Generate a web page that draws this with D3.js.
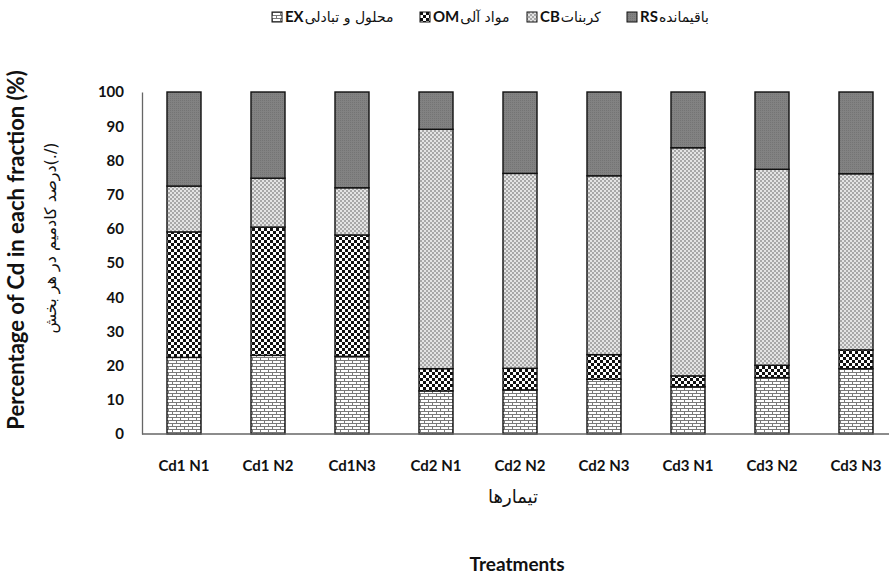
<!DOCTYPE html>
<html>
<head>
<meta charset="utf-8">
<script src="https://cdn.jsdelivr.net/npm/d3@7"></script>
<style>
body { margin: 0; background: #fff; }
text { font-family: Lato, "DejaVu Sans", sans-serif; }
.fa { font-family: "DejaVu Sans", sans-serif; }
</style>
</head>
<body>
<svg id="chart" width="889" height="577"></svg>
<script>
let treatments = ["Cd1 N1", "Cd1 N2", "Cd1N3", "Cd2 N1", "Cd2 N2", "Cd2 N3", "Cd3 N1", "Cd3 N2", "Cd3 N3"];
let exValues = [22.4, 23.0, 22.7, 12.6, 12.9, 16.0, 13.8, 16.5, 19.1];
let omValues = [36.7, 37.5, 35.5, 6.5, 6.3, 7.2, 3.2, 3.6, 5.5];
let cbValues = [13.4, 14.3, 13.8, 70.0, 57.0, 52.3, 66.7, 57.3, 51.5];
let rsValues = [27.5, 25.2, 28.0, 10.9, 23.8, 24.5, 16.3, 22.6, 23.9];
let fractionKeys = ["EX", "OM", "CB", "RS"];
let fractionNames = ["محلول و تبادلی", "مواد آلی", "کربنات", "باقیمانده"];
let yTicks = [0, 10, 20, 30, 40, 50, 60, 70, 80, 90, 100];

let svg = d3.select("#chart");

// fill patterns, one per fraction
let defs = svg.append("defs");
let p = defs.append("pattern").attr("id", "pat-EX").attr("patternUnits", "userSpaceOnUse").attr("width", 8).attr("height", 6);
p.append("rect").attr("width", 8).attr("height", 6).attr("fill", "#fff");
p.append("path").attr("d", "M0,0.5H8M0,3.5H8M0.5,0V3M4.5,3V6").attr("stroke", "#7a7a7a").attr("stroke-width", 1);

p = defs.append("pattern").attr("id", "pat-OM").attr("patternUnits", "userSpaceOnUse").attr("width", 6).attr("height", 6);
p.append("rect").attr("width", 6).attr("height", 6).attr("fill", "#fff");
p.append("rect").attr("width", 3).attr("height", 3).attr("fill", "#111");
p.append("rect").attr("x", 3).attr("y", 3).attr("width", 3).attr("height", 3).attr("fill", "#111");

p = defs.append("pattern").attr("id", "pat-CB").attr("patternUnits", "userSpaceOnUse").attr("width", 4).attr("height", 4);
p.append("rect").attr("width", 4).attr("height", 4).attr("fill", "#e4e4e4");
p.append("rect").attr("width", 2).attr("height", 2).attr("fill", "#a8a8a8");
p.append("rect").attr("x", 2).attr("y", 2).attr("width", 2).attr("height", 2).attr("fill", "#a8a8a8");

p = defs.append("pattern").attr("id", "pat-RS").attr("patternUnits", "userSpaceOnUse").attr("width", 2).attr("height", 2);
p.append("rect").attr("width", 2).attr("height", 2).attr("fill", "#828282");
p.append("rect").attr("width", 1).attr("height", 1).attr("fill", "#747474");

let x = d3.scaleBand().domain(treatments).range([142, 898]).paddingInner(0.595).paddingOuter(0.2975);
let y = d3.scaleLinear().domain([0, 100]).range([434, 92]);

let rows = treatments.map((t, i) => ({name: t, EX: exValues[i], OM: omValues[i], CB: cbValues[i], RS: rsValues[i]}));
let series = d3.stack().keys(fractionKeys)(rows);

svg.append("g").selectAll("g")
	.data(series)
	.join("g")
	.attr("fill", d => "url(#pat-" + d.key + ")")
	.selectAll("rect")
	.data(d => d)
	.join("rect")
	.attr("x", d => x(d.data.name))
	.attr("y", d => y(d[1]))
	.attr("width", x.bandwidth())
	.attr("height", d => y(d[0]) - y(d[1]))
	.attr("stroke", "#111")
	.attr("stroke-width", 1.4);

// axes
let yAxis = svg.append("g")
	.attr("transform", "translate(142,0)")
	.call(d3.axisLeft(y).tickValues(yTicks).tickSize(0).tickPadding(18));
yAxis.select(".domain").attr("stroke", "#666").attr("stroke-width", 1.3);
yAxis.selectAll("text").attr("font-size", 15).attr("font-weight", "bold").attr("fill", "#111");

let xAxis = svg.append("g")
	.attr("transform", "translate(0,434)")
	.call(d3.axisBottom(x).tickSize(0).tickPadding(26));
xAxis.select(".domain").attr("d", "M142,0H889").attr("stroke", "#666").attr("stroke-width", 1.5);
xAxis.selectAll("text").attr("font-size", 15).attr("font-weight", "bold").attr("fill", "#111");

// axis titles
svg.append("text")
	.attr("transform", "translate(24,250) rotate(-90)")
	.attr("text-anchor", "middle")
	.attr("font-size", 22)
	.attr("font-weight", "bold")
	.attr("fill", "#111")
	.text("Percentage of Cd in each fraction (%)");
svg.append("text")
	.attr("class", "fa")
	.attr("transform", "translate(56,238) rotate(-90)")
	.attr("text-anchor", "middle")
	.attr("font-size", 16)
	.attr("fill", "#111")
	.attr("direction", "rtl")
	.text("(/.)درصد کادمیم در هر بخش");
svg.append("text")
	.attr("class", "fa")
	.attr("x", 513).attr("y", 503)
	.attr("text-anchor", "middle")
	.attr("font-size", 18)
	.attr("fill", "#111")
	.text("تیمارها");
svg.append("text")
	.attr("x", 517).attr("y", 571)
	.attr("text-anchor", "middle")
	.attr("font-size", 19)
	.attr("font-weight", "bold")
	.attr("fill", "#111")
	.text("Treatments");

// legend: box, bold key, persian name
let legend = svg.append("g");
let legendX = [272, 420, 527, 627];
fractionKeys.forEach((k, i) => {
	let lx = legendX[i];
	legend.append("rect")
		.attr("x", lx).attr("y", 12).attr("width", 10).attr("height", 10)
		.attr("fill", "url(#pat-" + k + ")")
		.attr("stroke", "#111").attr("stroke-width", 1);
	lx += 13;
	let t1 = legend.append("text")
		.attr("x", lx).attr("y", 22)
		.attr("font-size", 15).attr("font-weight", "bold").attr("fill", "#111")
		.text(k);
	lx += t1.node().getComputedTextLength() + 1;
	legend.append("text")
		.attr("class", "fa")
		.attr("x", lx).attr("y", 22)
		.attr("font-size", 14).attr("fill", "#111")
		.text(fractionNames[i]);
});
</script>
</body>
</html>
